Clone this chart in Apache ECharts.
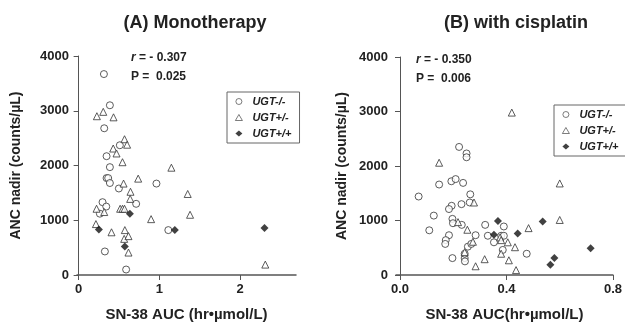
<!DOCTYPE html>
<html><head><meta charset="utf-8">
<script src="https://cdn.jsdelivr.net/npm/echarts@6/dist/echarts.min.js"></script>
<style>html,body{margin:0;padding:0;background:#fff}#c{width:625px;height:327px}</style>
</head><body><div id="c"></div>
<script>
// ---- Data (A) Monotherapy: [SN-38 AUC, ANC nadir]
var monoHomoNeg = [[0.313,3670],[0.387,3100],[0.317,2680],[0.346,2170],[0.510,2370],[0.387,1970],[0.346,1770],[0.366,1770],[0.387,1680],[0.498,1580],[0.963,1670],[0.712,1300],[0.296,1330],[0.342,1250],[0.263,1120],[0.325,430],[0.588,100],[1.11,820]];
var monoHet = [[0.226,2900],[0.305,2980],[0.432,2880],[0.568,2480],[0.600,2380],[0.428,2310],[0.469,2220],[0.543,2060],[0.737,1760],[0.556,1670],[0.642,1520],[0.638,1390],[0.222,1210],[0.317,1150],[0.514,1210],[0.543,1210],[0.568,1210],[0.214,930],[0.407,780],[0.897,1020],[0.572,820],[0.564,660],[0.617,710],[0.617,410],[1.148,1960],[1.35,1480],[1.379,1100],[2.31,190]];
var monoHomoPos = [[0.251,830],[0.634,1120],[0.572,520],[1.19,820],[2.30,860]];
// ---- Data (B) with cisplatin
var cisHomoNeg = [[0.070,1440],[0.110,820],[0.127,1090],[0.147,1660],[0.193,1720],[0.209,1760],[0.237,1690],[0.222,2350],[0.250,2230],[0.250,2160],[0.264,1480],[0.262,1330],[0.231,1300],[0.194,1270],[0.184,1210],[0.197,1030],[0.199,950],[0.232,920],[0.184,730],[0.172,640],[0.170,570],[0.197,310],[0.243,310],[0.244,250],[0.243,390],[0.255,520],[0.268,570],[0.284,730],[0.320,920],[0.330,720],[0.353,600],[0.380,720],[0.390,720],[0.390,890],[0.386,460],[0.476,390]];
var cisHet = [[0.147,2060],[0.218,970],[0.253,830],[0.278,1330],[0.274,610],[0.243,420],[0.284,160],[0.318,290],[0.376,690],[0.380,640],[0.405,600],[0.380,390],[0.432,510],[0.409,270],[0.436,90],[0.483,860],[0.420,2980],[0.600,1680],[0.600,1010]];
var cisHomoPos = [[0.368,990],[0.353,740],[0.442,760],[0.536,980],[0.580,310],[0.565,190],[0.716,490]];
// ---- Labels
var groupNames = ['UGT-/-','UGT+/-','UGT+/+'];
var panelTitles = ['(A) Monotherapy','(B) with cisplatin'];
var xTitles = ['SN-38 AUC (hr\u2022\u00b5mol/L)','SN-38 AUC(hr\u2022\u00b5mol/L)'];
var yTitle = 'ANC nadir (counts/\u00b5L)';
var xTicksA = [0,1,2];
var xTicksB = [0,0.4,0.8];
var stats = [['- 0.307','0.025'],['- 0.350','0.006']];

var FONT = 'Liberation Sans, Arial, sans-serif';
var TXT = '#222';
var AX = '#555';

function xAxis(idx, min, max, ticks, fmt) {
  return {
    type:'value', gridIndex:idx, min:min, max:max,
    name: xTitles[idx], nameLocation:'middle', nameGap:32,
    nameTextStyle:{fontFamily:FONT,fontWeight:'bold',fontSize:15,color:TXT},
    axisLine:{lineStyle:{color:AX,width:1.5}},
    axisTick:{show:true, customValues:ticks, length:5, lineStyle:{color:AX}},
    axisLabel:{customValues:ticks, formatter:fmt, fontFamily:FONT,fontWeight:'bold',fontSize:13,color:TXT,margin:8},
    splitLine:{show:false}
  };
}
function yAxis(idx, gap) {
  return {
    type:'value', gridIndex:idx, min:0, max:4000, interval:1000,
    name: yTitle, nameLocation:'middle', nameGap:gap,
    nameTextStyle:{fontFamily:FONT,fontWeight:'bold',fontSize:14,color:TXT},
    axisLine:{show:true,lineStyle:{color:AX,width:1}},
    axisTick:{show:true,length:5,lineStyle:{color:AX}},
    axisLabel:{formatter:function(v){return String(v);},fontFamily:FONT,fontWeight:'bold',fontSize:13,color:TXT,margin:8},
    splitLine:{show:false}
  };
}
var hollow = {color:'#fff',borderColor:'#333',borderWidth:1};
function ser(name, data, idx, symbol, style, size) {
  return {type:'scatter', name:name, xAxisIndex:idx, yAxisIndex:idx, data:data,
    symbol:symbol, symbolSize:size, itemStyle:style, silent:true, z:3};
}
function legend(left, top) {
  return {
    data:groupNames, orient:'vertical', left:left, top:top,
    borderColor:'#666', borderWidth:1, padding:[4,8,4,8],
    itemWidth:7, itemHeight:6, itemGap:5,
    selectedMode:false,
    itemStyle:{borderWidth:0.8},
    textStyle:{fontFamily:FONT,fontStyle:'italic',fontWeight:'bold',fontSize:11,color:TXT,padding:[0,0,0,5]}
  };
}
function statText(x, y, s) {
  return {type:'text', left:x, top:y, style:{
    text:'{i|r} = '+s[0]+'\nP =  '+s[1],
    font:'bold 12px '+FONT, fill:TXT, lineHeight:19,
    rich:{i:{fontStyle:'italic',fontWeight:'bold',fontSize:12,fontFamily:FONT,fill:TXT}}
  }};
}

var chart = echarts.init(document.getElementById('c'), null, {renderer:'canvas'});
chart.setOption({
  backgroundColor:'#fff',
  animation:false,
  title:[
    {text:panelTitles[0], left:190, top:9, textAlign:'center', textStyle:{fontFamily:FONT,fontWeight:'bold',fontSize:18,color:TXT}},
    {text:panelTitles[1], left:511, top:9, textAlign:'center', textStyle:{fontFamily:FONT,fontWeight:'bold',fontSize:18,color:TXT}}
  ],
  grid:[
    {left:77, top:56, width:219, height:223},
    {left:396, top:57, width:218, height:223}
  ],
  xAxis:[
    xAxis(0,-0.02,2.69,xTicksA,function(v){return String(v);}),
    xAxis(1,-0.015,0.8,xTicksB,function(v){return v.toFixed(1);})
  ],
  yAxis:[yAxis(0,54), yAxis(1,47)],
  legend:[legend(227,92), legend(554,105)],
  series:[
    ser(groupNames[0], monoHomoNeg, 0, 'circle', hollow, 7),
    ser(groupNames[1], monoHet, 0, 'triangle', hollow, 7),
    ser(groupNames[2], monoHomoPos, 0, 'diamond', {color:'#111'}, 8),
    ser(groupNames[0], cisHomoNeg, 1, 'circle', hollow, 7),
    ser(groupNames[1], cisHet, 1, 'triangle', hollow, 7),
    ser(groupNames[2], cisHomoPos, 1, 'diamond', {color:'#111'}, 8)
  ],
  graphic:[statText(131,48,stats[0]), statText(416,50,stats[1])]
});
</script></body></html>
